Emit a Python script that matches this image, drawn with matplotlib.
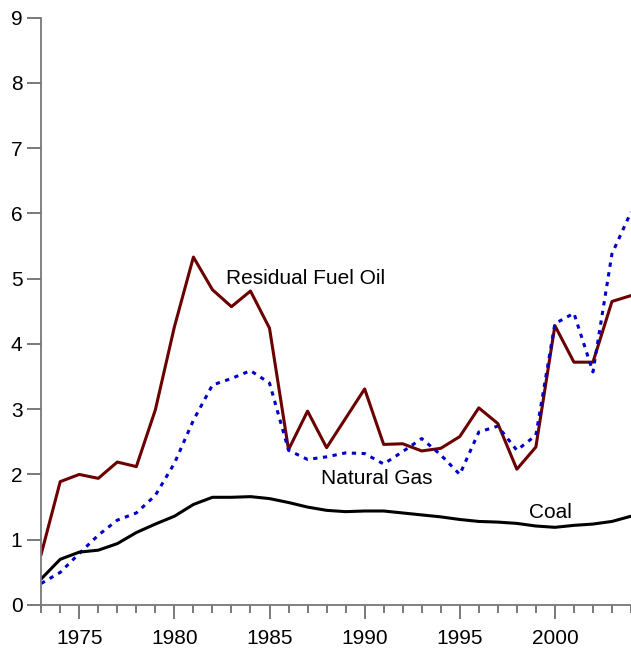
import matplotlib
matplotlib.use("Agg")

import matplotlib.pyplot as plt
from matplotlib.ticker import MultipleLocator

years = list(range(1973, 2005))

fuel_oil = [0.78, 1.89, 2.00, 1.94, 2.19, 2.12, 2.99, 4.26, 5.33, 4.83,
            4.57, 4.81, 4.24, 2.38, 2.97, 2.41, 2.86, 3.31, 2.46, 2.47,
            2.36, 2.40, 2.58, 3.02, 2.78, 2.08, 2.42, 4.28, 3.72, 3.72,
            4.65, 4.74]

natural_gas = [0.33, 0.50, 0.79, 1.07, 1.30, 1.41, 1.68, 2.17, 2.83, 3.37,
               3.47, 3.59, 3.40, 2.37, 2.23, 2.27, 2.33, 2.32, 2.16, 2.35,
               2.55, 2.30, 2.00, 2.65, 2.74, 2.37, 2.60, 4.31, 4.47, 3.57,
               5.38, 6.02]

coal = [0.40, 0.70, 0.81, 0.84, 0.94, 1.11, 1.24, 1.36, 1.54, 1.65,
        1.65, 1.66, 1.63, 1.57, 1.50, 1.45, 1.43, 1.44, 1.44, 1.41,
        1.38, 1.35, 1.31, 1.28, 1.27, 1.25, 1.21, 1.19, 1.22, 1.24,
        1.28, 1.36]

plt.rcParams["font.family"] = ["Liberation Sans", "DejaVu Sans"]

fig = plt.figure(figsize=(6.31, 6.48), dpi=100)
ax = fig.add_axes([41.2 / 631, 43 / 648, 1 - 41.2 / 631, (605 - 17.5) / 648])

ax.plot(years, fuel_oil, color="#6b0000", lw=2.2)
ax.plot(years, natural_gas, color="#0000c8", lw=2.2, linestyle=(0, (1.4, 1.8)))
ax.plot(years, coal, color="black", lw=2.2)

ax.text(1982.7, 5.0, "Residual Fuel Oil", fontsize=15, va="center")
ax.text(1987.7, 1.94, "Natural Gas", fontsize=15, va="center")
ax.text(1998.65, 1.41, "Coal", fontsize=15, va="center")

ax.set_xlim(1973, 2004)
ax.set_ylim(0, 9)
ax.xaxis.set_major_locator(MultipleLocator(5))
ax.xaxis.set_minor_locator(MultipleLocator(1))
ax.yaxis.set_major_locator(MultipleLocator(1))

for side in ["top", "right"]:
    ax.spines[side].set_visible(False)
for side in ["left", "bottom"]:
    ax.spines[side].set_color("#777777")
    ax.spines[side].set_linewidth(1.3)

ax.tick_params(axis="both", which="major", length=10, width=1.1,
               color="#555555", labelsize=15, direction="out")
ax.tick_params(axis="y", pad=3.5)
ax.tick_params(axis="x", pad=7.5)
ax.tick_params(axis="x", which="minor", length=5.5, width=1.1, color="#555555")

fig.savefig("out.png", dpi=100)
plt.close(fig)
